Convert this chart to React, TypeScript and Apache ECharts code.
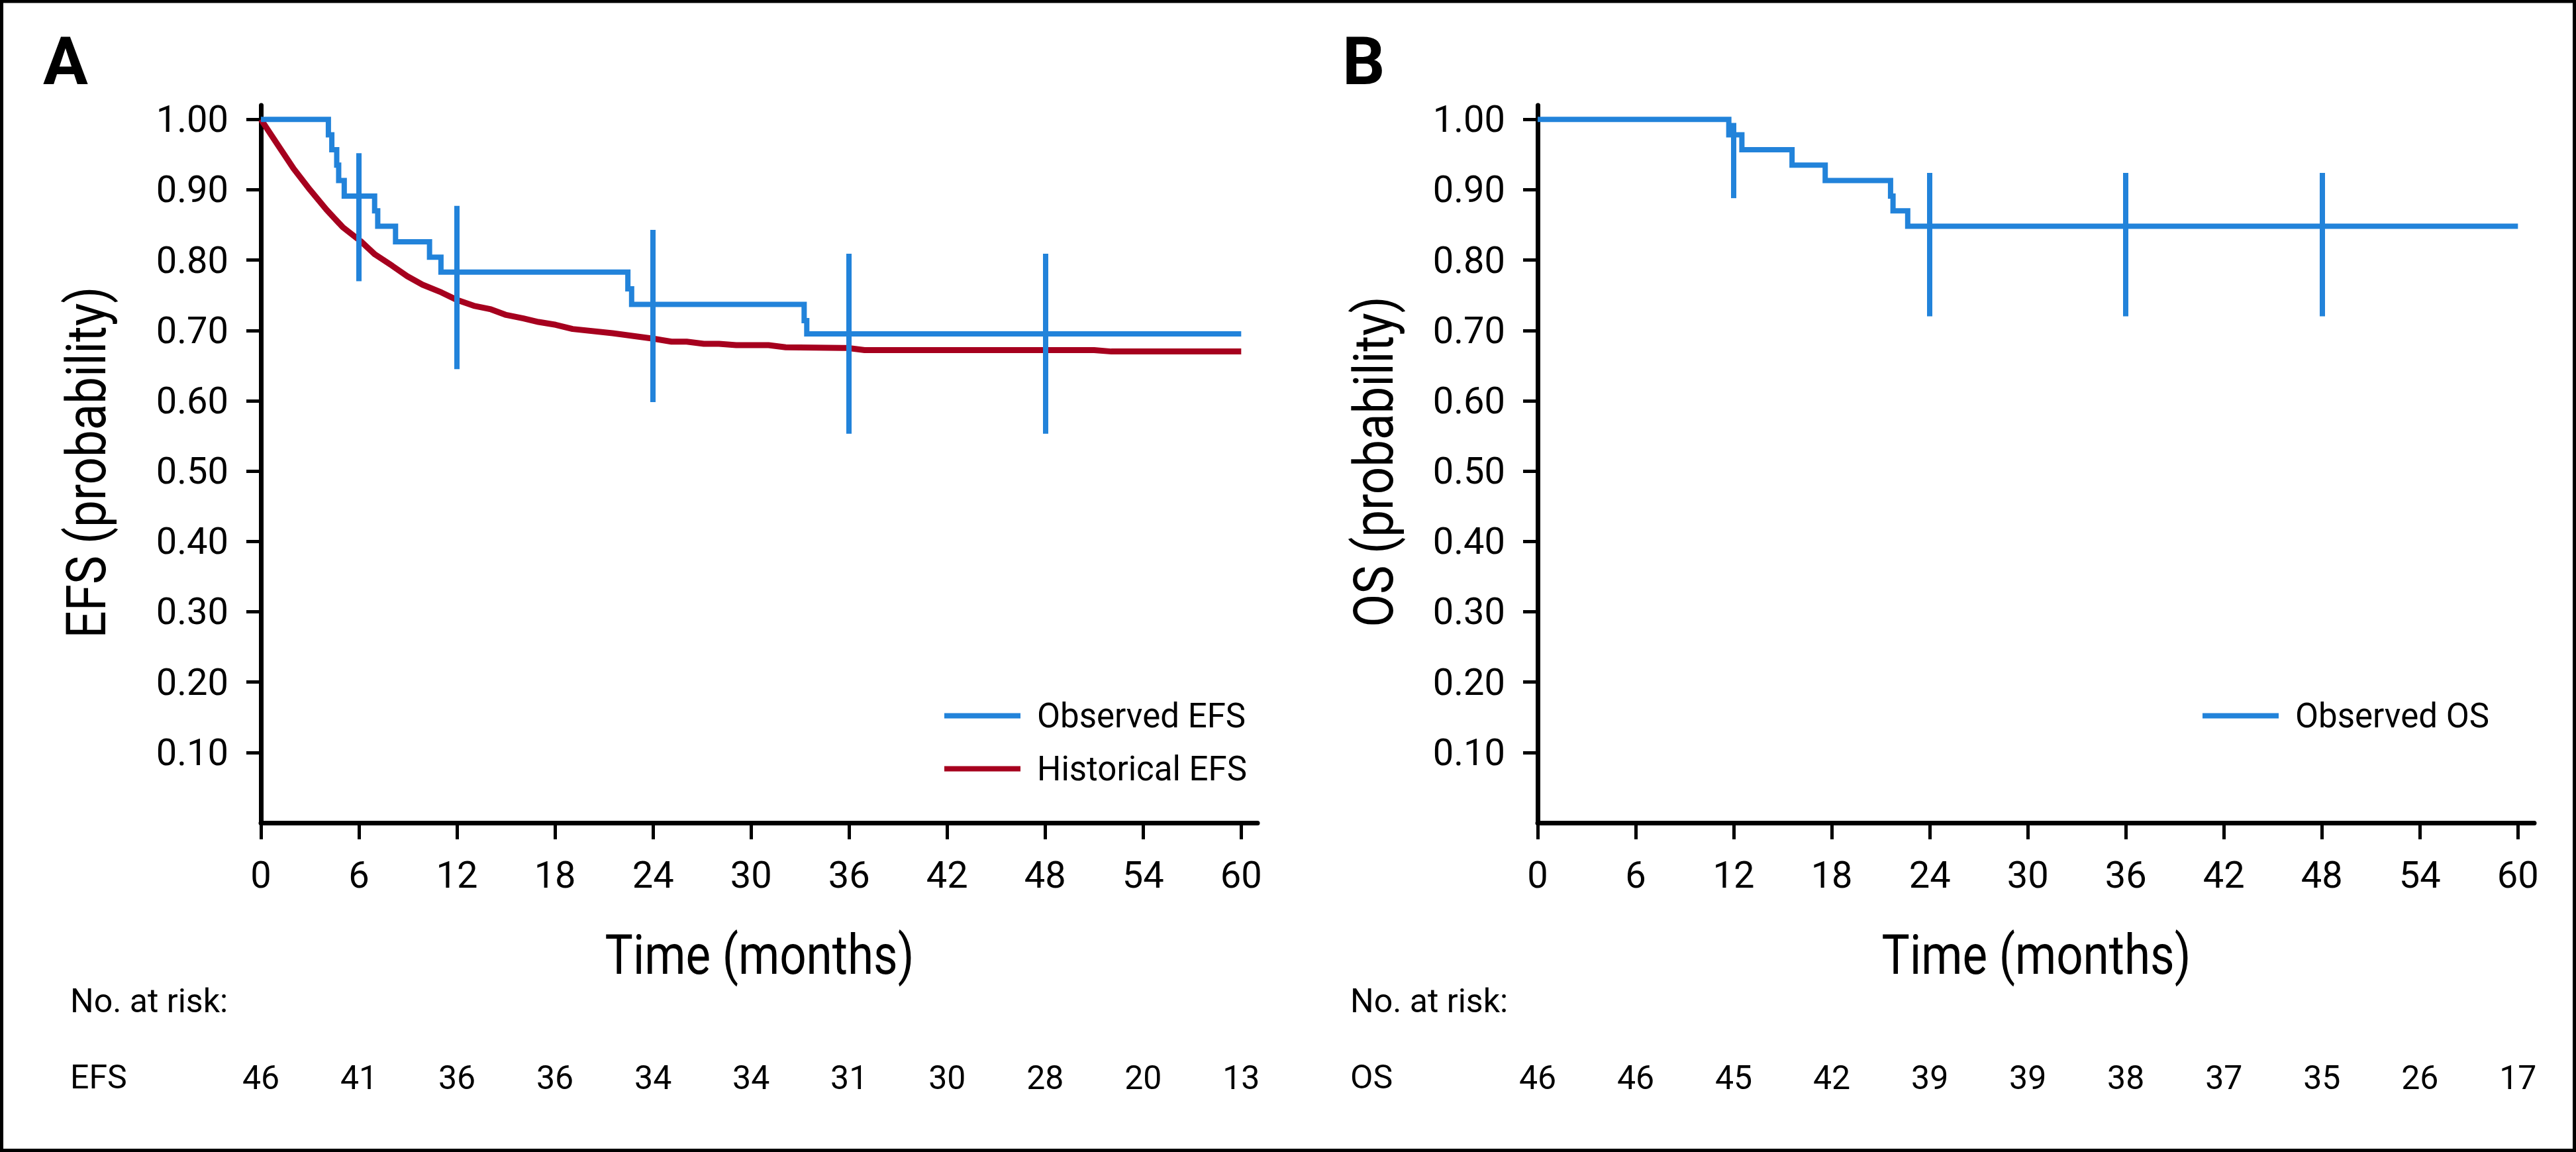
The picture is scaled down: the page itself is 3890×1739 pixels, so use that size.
import React, { useEffect, useRef } from 'react';
import * as echarts from 'echarts';

const W = 3890;
const H = 1739;

const xTicks = [0, 6, 12, 18, 24, 30, 36, 42, 48, 54, 60];
const yTicks = [0.1, 0.2, 0.3, 0.4, 0.5, 0.6, 0.7, 0.8, 0.9, 1.0];

// Panel A: observed EFS (Kaplan-Meier steps)
const efsObsTime = [0, 4.13, 4.34, 4.64, 4.76, 5.1, 6.96, 7.15, 8.24, 10.32, 11.02, 22.46, 22.69, 33.25, 33.41, 60];
const efsObsSurv = [1, 0.978, 0.957, 0.935, 0.913, 0.891, 0.87, 0.848, 0.826, 0.804, 0.783, 0.759, 0.737, 0.714, 0.695, 0.695];

// Panel A: historical EFS curve
const efsHistTime = [0, 1.0, 2.0, 3.0, 4.0, 5.0, 6.1, 6.98, 8.03, 8.96, 9.89, 11.05, 12.03, 13.03, 14.08, 15.01, 16.06, 16.99, 18.04, 19.08, 21.53, 24.09, 25.13, 26.06, 27.11, 28.04, 29.09, 31.07, 32.12, 35.9, 36.95, 51.0, 52.05, 60];
const efsHistSurv = [1.0, 0.965, 0.93, 0.9, 0.872, 0.847, 0.827, 0.808, 0.792, 0.777, 0.765, 0.754, 0.743, 0.735, 0.73, 0.722, 0.717, 0.712, 0.708, 0.702, 0.696, 0.688, 0.684, 0.684, 0.681, 0.681, 0.679, 0.679, 0.676, 0.675, 0.672, 0.672, 0.67, 0.67];

// Panel A: confidence interval bars
const efsCiTime = [6, 12, 24, 36, 48];
const efsCiLow = [0.77, 0.645, 0.598, 0.553, 0.553];
const efsCiHigh = [0.952, 0.877, 0.843, 0.809, 0.809];

// Panel B: observed OS
const osObsTime = [0, 11.7, 12.5, 15.57, 17.6, 21.6, 21.75, 22.65, 60];
const osObsSurv = [1, 0.978, 0.957, 0.935, 0.913, 0.891, 0.87, 0.848, 0.848];

const osCiTime = [12, 24, 36, 48];
const osCiLow = [0.888, 0.72, 0.72, 0.72];
const osCiHigh = [0.995, 0.924, 0.924, 0.924];

// Numbers at risk
const riskEFS = [46, 41, 36, 36, 34, 34, 31, 30, 28, 20, 13];
const riskOS = [46, 46, 45, 42, 39, 39, 38, 37, 35, 26, 17];

const FONT = 'Roboto, "Noto Sans", sans-serif';
const BLUE = '#2283DA';
const RED = '#A6001E';

function pairs(t: number[], v: number[]) {
  return t.map((x, i) => [x, v[i]]);
}

function ciLines(t: number[], lo: number[], hi: number[]) {
  return t.map((x, i) => [{ coord: [x, lo[i]] }, { coord: [x, hi[i]] }]);
}

function mainX(gi: number) {
  return {
    type: 'value',
    gridIndex: gi,
    min: 0,
    max: 61,
    axisLine: { show: true, onZero: false, lineStyle: { color: '#000', width: 7 } },
    axisTick: { show: true, length: 25, lineStyle: { color: '#000', width: 5 }, customValues: xTicks },
    axisLabel: {
      customValues: xTicks,
      fontSize: 56,
      lineHeight: 56,
      fontFamily: FONT,
      color: '#000',
      margin: 51,
      formatter: (v: number) => String(v),
    },
    splitLine: { show: false },
  };
}

function riskX(gi: number, arr: number[]) {
  return {
    type: 'value',
    gridIndex: gi,
    min: 0,
    max: 61,
    position: 'bottom',
    offset: 340,
    axisLine: { show: false },
    axisTick: { show: false },
    splitLine: { show: false },
    axisLabel: {
      customValues: xTicks,
      fontSize: 50,
      lineHeight: 50,
      fontFamily: FONT,
      color: '#000',
      margin: 20,
      formatter: (v: number) => String(arr[xTicks.indexOf(v)]),
    },
  };
}

function mainY(gi: number) {
  return {
    type: 'value',
    gridIndex: gi,
    min: 0,
    max: 1.02,
    axisLine: { show: true, onZero: false, lineStyle: { color: '#000', width: 7 } },
    axisTick: { show: true, length: 22, lineStyle: { color: '#000', width: 5 }, customValues: yTicks },
    axisLabel: {
      customValues: yTicks,
      fontSize: 56,
      fontFamily: FONT,
      color: '#000',
      margin: 49,
      formatter: (v: number) => v.toFixed(2),
    },
    splitLine: { show: false },
  };
}

function txt(text: string, x: number, y: number, size: number, opts: any = {}) {
  return {
    type: 'text',
    x,
    y,
    rotation: opts.rotation || 0,
    scaleX: opts.scaleX || 1,
    scaleY: 1,
    silent: true,
    style: {
      text,
      fontSize: size,
      fontFamily: FONT,
      fontWeight: opts.bold ? 'bold' : 'normal',
      fill: '#000',
      align: opts.align || 'left',
      verticalAlign: 'middle',
    },
  };
}

const legendBase = {
  orient: 'vertical',
  icon: 'rect',
  itemWidth: 115,
  itemHeight: 8,
  itemGap: 29,
  padding: 0,
  selectedMode: false,
  textStyle: { fontSize: 51, lineHeight: 50, fontFamily: FONT, color: '#000', padding: [0, 0, 0, 20] },
};

export default function App() {
  const ref = useRef<HTMLDivElement>(null);

  useEffect(() => {
    if (!ref.current) return;
    const chart = echarts.init(ref.current, null, { renderer: 'svg', width: W, height: H });
    const lineBase = {
      type: 'line',
      symbol: 'none',
      showSymbol: false,
      silent: true,
      emphasis: { disabled: true },
    };
    const option: any = {
      animation: false,
      backgroundColor: '#ffffff',
      textStyle: { fontFamily: FONT },
      grid: [
        { left: 394, top: 159, width: 1505, height: 1083, containLabel: false, outerBoundsMode: 'none' },
        { left: 2322, top: 159, width: 1505, height: 1083, containLabel: false, outerBoundsMode: 'none' },
      ],
      xAxis: [mainX(0), mainX(1), riskX(0, riskEFS), riskX(1, riskOS)],
      yAxis: [mainY(0), mainY(1)],
      legend: [
        { ...legendBase, data: ['Observed EFS', 'Historical EFS'], left: 1426, top: 1055 },
        { ...legendBase, data: ['Observed OS'], left: 3326, top: 1055 },
      ],
      series: [
        {
          ...lineBase,
          name: 'Historical EFS',
          xAxisIndex: 0,
          yAxisIndex: 0,
          z: 2,
          data: pairs(efsHistTime, efsHistSurv),
          lineStyle: { color: RED, width: 9, join: 'round' },
          itemStyle: { color: RED },
        },
        {
          ...lineBase,
          name: 'Observed EFS',
          xAxisIndex: 0,
          yAxisIndex: 0,
          z: 3,
          step: 'end',
          data: pairs(efsObsTime, efsObsSurv),
          lineStyle: { color: BLUE, width: 8, join: 'miter', cap: 'butt' },
          itemStyle: { color: BLUE },
          markLine: {
            silent: true,
            symbol: ['none', 'none'],
            label: { show: false },
            emphasis: { disabled: true },
            lineStyle: { color: BLUE, width: 8, type: 'solid' },
            data: ciLines(efsCiTime, efsCiLow, efsCiHigh),
          },
        },
        {
          ...lineBase,
          name: 'Observed OS',
          xAxisIndex: 1,
          yAxisIndex: 1,
          z: 3,
          step: 'end',
          data: pairs(osObsTime, osObsSurv),
          lineStyle: { color: BLUE, width: 8, join: 'miter', cap: 'butt' },
          itemStyle: { color: BLUE },
          markLine: {
            silent: true,
            symbol: ['none', 'none'],
            label: { show: false },
            emphasis: { disabled: true },
            lineStyle: { color: BLUE, width: 8, type: 'solid' },
            data: ciLines(osCiTime, osCiLow, osCiHigh),
          },
        },
      ],
      graphic: [
        {
          type: 'rect',
          silent: true,
          z: 100,
          shape: { x: 2.5, y: 2, width: 3885, height: 1734.5 },
          style: { fill: 'none', stroke: '#000', lineWidth: 5 },
        },
        txt('A', 65, 92, 101, { bold: true }),
        txt('B', 2027, 92, 101, { bold: true }),
        txt('EFS (probability)', 130, 698, 84, { rotation: Math.PI / 2, scaleX: 0.865, align: 'center' }),
        txt('OS (probability)', 2074, 697, 84, { rotation: Math.PI / 2, scaleX: 0.865, align: 'center' }),
        txt('Time (months)', 1147, 1442, 83, { scaleX: 0.855, align: 'center' }),
        txt('Time (months)', 3075, 1442, 83, { scaleX: 0.855, align: 'center' }),
        txt('No. at risk:', 106, 1511, 50),
        txt('No. at risk:', 2039, 1511, 50),
        txt('EFS', 106, 1626, 50),
        txt('OS', 2039, 1626, 50),
      ],
    };
    chart.setOption(option);
    return () => {
      chart.dispose();
    };
  }, []);

  return (
    <div
      ref={ref}
      style={{ position: 'absolute', left: 0, top: 0, width: W, height: H, background: '#fff' }}
    />
  );
}
